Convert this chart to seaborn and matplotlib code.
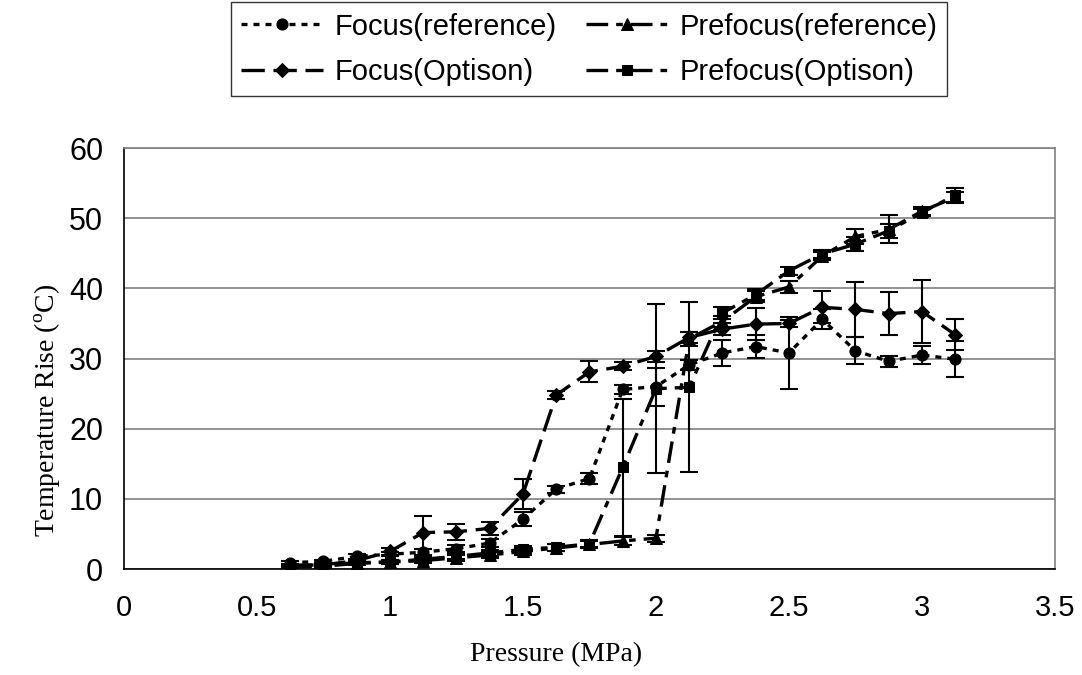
import numpy as np
import pandas as pd
import matplotlib
matplotlib.use("Agg")
import matplotlib.pyplot as plt
import seaborn as sns

# Pressure steps (MPa)
pressure = [0.625, 0.75, 0.875, 1.0, 1.125, 1.25, 1.375, 1.5, 1.625, 1.75, 1.875,
            2.0, 2.125, 2.25, 2.375, 2.5, 2.625, 2.75, 2.875, 3.0, 3.125]

# Temperature rise (deg C) and standard deviations per series
focus_ref = [0.9, 1.1, 1.8, 2.1, 2.4, 2.9, 3.7, 7.1, 11.4, 12.9, 25.6,
             26.0, 29.1, 30.8, 31.7, 30.8, 35.6, 31.1, 29.6, 30.5, 29.9]
focus_ref_err = [0.2, 0.2, 0.3, 0.3, 0.4, 0.5, 0.6, 1.0, 0.5, 0.8, 0.6,
                 2.7, 0.7, 1.9, 1.6, 5.1, 1.4, 1.9, 0.8, 1.3, 2.6]

focus_opt = [0.5, 0.6, 1.2, 2.5, 5.2, 5.3, 5.8, 10.7, 24.8, 28.1, 28.9,
             30.3, 33.0, 34.2, 34.9, 35.0, 37.3, 37.0, 36.4, 36.7, 33.4]
focus_opt_err = [0.2, 0.2, 0.3, 0.5, 2.3, 1.1, 0.9, 2.1, 0.6, 1.5, 0.6,
                 0.8, 0.8, 0.8, 2.3, 0.5, 2.3, 3.9, 3.1, 4.5, 2.2]

prefocus_ref = [0.3, 0.4, 0.8, 1.0, 1.2, 1.6, 2.0, 2.5, 3.0, 3.5, 4.0,
                4.4, 32.8, 35.3, 38.8, 40.2, 44.6, 47.4, 48.4, 51.0, 53.0]
prefocus_ref_err = [0.2, 0.2, 0.2, 0.3, 0.3, 0.4, 0.4, 0.5, 0.5, 0.5, 0.6,
                    0.5, 1.0, 0.8, 0.8, 0.8, 0.6, 1.1, 2.0, 0.6, 0.8]

prefocus_opt = [0.5, 0.6, 0.9, 1.0, 1.4, 1.8, 2.3, 2.8, 3.1, 3.6, 14.5,
                25.7, 25.9, 36.5, 39.1, 42.5, 44.9, 46.3, 48.2, 50.8, 53.3]
prefocus_opt_err = [0.2, 0.2, 0.2, 0.3, 0.3, 0.4, 0.4, 0.5, 0.5, 0.5, 9.8,
                    12.0, 12.1, 0.8, 0.8, 0.6, 0.6, 1.0, 1.0, 0.5, 1.0]

series_names = ["Focus(reference)", "Focus(Optison)",
                "Prefocus(reference)", "Prefocus(Optison)"]

sns.set_theme(style="white")
plt.rcParams["font.family"] = ["Liberation Sans", "DejaVu Sans"]
plt.rcParams["mathtext.fontset"] = "custom"
plt.rcParams["mathtext.rm"] = "Liberation Serif"
for key in ["text.color", "axes.labelcolor", "xtick.color", "ytick.color"]:
    plt.rcParams[key] = "black"

fig = plt.figure(figsize=(10.82, 6.75), dpi=100)
ax = fig.add_axes([0.1146, 0.157, 0.8604, 0.6237])

styles = {
    "Focus(reference)": dict(marker="o", ms=8, ls=(0, (1.8, 1.8)),
                             y=focus_ref, err=focus_ref_err),
    "Focus(Optison)": dict(marker="D", ms=7, ls=(0, (7, 2.6)),
                           y=focus_opt, err=focus_opt_err),
    "Prefocus(reference)": dict(marker="^", ms=8, ls=(0, (6.5, 2.4, 2.0, 2.4)),
                                y=prefocus_ref, err=prefocus_ref_err),
    "Prefocus(Optison)": dict(marker="s", ms=7.5, ls=(0, (6.5, 2.4, 2.0, 2.4)),
                              y=prefocus_opt, err=prefocus_opt_err),
}

handles = []
for name in series_names:
    st = styles[name]
    df = pd.DataFrame({"pressure": pressure, "temp": st["y"]})
    sns.lineplot(data=df, x="pressure", y="temp", ax=ax, color="black",
                 linewidth=2.4, linestyle=st["ls"], marker=st["marker"],
                 markersize=st["ms"], markeredgecolor="black",
                 markerfacecolor="black", label=name, legend=False, zorder=3)
    handles.append(ax.get_lines()[-1])
    ax.errorbar(pressure, st["y"], yerr=st["err"], fmt="none", ecolor="black",
                elinewidth=1.5, capsize=6.5, capthick=1.5, zorder=2)

ax.set_xlim(0, 3.5)
ax.set_ylim(0, 60)
ax.set_xticks(np.arange(0, 3.51, 0.5))
ax.set_xticklabels(["0", "0.5", "1", "1.5", "2", "2.5", "3", "3.5"])
ax.set_yticks(np.arange(0, 61, 10))
ax.yaxis.grid(True, color="#808080", linewidth=1.2)
ax.xaxis.grid(False)
ax.set_axisbelow(True)

for side in ["top", "right"]:
    ax.spines[side].set_color("#808080")
    ax.spines[side].set_linewidth(1.2)
for side in ["left", "bottom"]:
    ax.spines[side].set_color("black")
    ax.spines[side].set_linewidth(1.2)

ax.tick_params(axis="both", which="major", direction="out", length=7,
               width=1.2, color="black")
ax.tick_params(axis="y", pad=8, labelsize=22)
ax.tick_params(axis="x", pad=11, labelsize=21)

ax.set_xlabel("Pressure (MPa)", family="Liberation Serif", fontsize=20)
ax.xaxis.set_label_coords(0.464, -0.174)
ax.set_ylabel(r"Temperature Rise ($^{\rm o}$C)", family="Liberation Serif",
              fontsize=20)
ax.yaxis.set_label_coords(-0.066, 0.378)

leg = fig.legend(handles=handles, labels=series_names, ncol=2,
                 loc="upper center", bbox_to_anchor=(0.5445, 1.018),
                 fontsize=21, frameon=True, fancybox=False, handlelength=2.8,
                 columnspacing=1.0, handletextpad=0.4, borderpad=0.35,
                 labelspacing=0.6)
leg.get_frame().set_edgecolor("black")
leg.get_frame().set_linewidth(1.0)

fig.savefig("out.png", dpi=100, facecolor="white")
